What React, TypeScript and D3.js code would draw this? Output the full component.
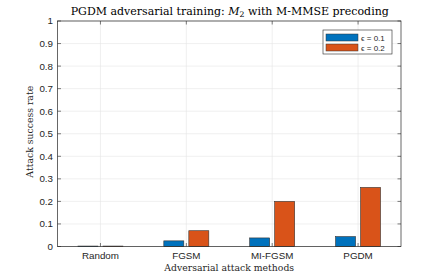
import React from "react";
import * as d3 from "d3";

const categories = ["Random", "FGSM", "MI-FGSM", "PGDM"];
const eps01 = [0.002, 0.025, 0.038, 0.044];
const eps02 = [0.002, 0.07, 0.2, 0.262];
const seriesNames = ["\u03f5 = 0.1", "\u03f5 = 0.2"];
const seriesColors = ["#0072BD", "#D95319"];
const yTicks = [0, 0.1, 0.2, 0.3, 0.4, 0.5, 0.6, 0.7, 0.8, 0.9, 1];

export default function App() {
  const W = 443, H = 277;
  const L = 57.5, R = 401, T = 21, B = 246.5;
  const x = d3.scaleLinear().domain([0.5, 4.5]).range([L, R]);
  const y = d3.scaleLinear().domain([0, 1]).range([B, T]);
  const series = [eps01, eps02];
  const barW = 20;
  const offs = [-12.5, 12.5];
  const tickLen = 3.5;
  const sans = "Liberation Sans, Arial, sans-serif";
  const serif = "DejaVu Serif, serif";
  return (
    <svg width={W} height={H} style={{ position: "absolute", left: 0, top: 0, background: "#fff" }}>
      <rect x={0} y={0} width={W} height={H} fill="#fff" />
      {yTicks.map((t) => (
        <line key={"gy" + t} x1={L} x2={R} y1={y(t)} y2={y(t)} stroke="#e6e6e6" strokeWidth={0.6} />
      ))}
      {categories.map((c, i) => (
        <line key={"gx" + c} x1={x(i + 1)} x2={x(i + 1)} y1={T} y2={B} stroke="#e6e6e6" strokeWidth={0.6} />
      ))}
      {series.map((s, si) =>
        s.map((v, i) => (
          <rect
            key={"b" + si + "-" + i}
            x={x(i + 1) + offs[si] - barW / 2}
            y={y(v)}
            width={barW}
            height={B - y(v)}
            fill={seriesColors[si]}
            stroke="#333"
            strokeWidth={0.6}
          />
        ))
      )}
      <rect x={L} y={T} width={R - L} height={B - T} fill="none" stroke="#262626" strokeWidth={0.7} />
      {yTicks.map((t) => (
        <g key={"ty" + t}>
          <line x1={L} x2={L + tickLen} y1={y(t)} y2={y(t)} stroke="#262626" strokeWidth={0.6} />
          <line x1={R} x2={R - tickLen} y1={y(t)} y2={y(t)} stroke="#262626" strokeWidth={0.6} />
          <text x={L - 4.5} y={y(t) + 3.4} textAnchor="end" fontFamily={sans} fontSize={9.8} fill="#262626">
            {String(t)}
          </text>
        </g>
      ))}
      {categories.map((c, i) => (
        <g key={"tx" + c}>
          <line x1={x(i + 1)} x2={x(i + 1)} y1={B} y2={B - tickLen} stroke="#262626" strokeWidth={0.6} />
          <line x1={x(i + 1)} x2={x(i + 1)} y1={T} y2={T + tickLen} stroke="#262626" strokeWidth={0.6} />
          <text x={x(i + 1)} y={B + 12.5} textAnchor="middle" fontFamily={sans} fontSize={9.8} fill="#262626">
            {c}
          </text>
        </g>
      ))}
      <text x={(L + R) / 2 + 0.5} y={14.5} textAnchor="middle" fontFamily={serif} fontSize={11} fill="#000">
        PGDM adversarial training: <tspan fontStyle="italic">M</tspan>
        <tspan fontSize={7.8} dy={2}>2</tspan>
        <tspan dy={-2}> with M-MMSE precoding</tspan>
      </text>
      <text x={(L + R) / 2} y={270.5} textAnchor="middle" fontFamily={serif} fontSize={9.3} fill="#262626">
        Adversarial attack methods
      </text>
      <text
        transform={`translate(32.5,${(T + B) / 2 - 2}) rotate(-90)`}
        textAnchor="middle"
        fontFamily={serif}
        fontSize={9.3}
        fill="#262626"
      >
        Attack success rate
      </text>
      <rect x={323} y={30} width={69} height={24} fill="#fff" stroke="#262626" strokeWidth={0.6} />
      {seriesNames.map((n, i) => (
        <g key={"lg" + i}>
          <rect x={326} y={34 + i * 10} width={32} height={7} fill={seriesColors[i]} stroke="#333" strokeWidth={0.5} />
          <text x={361} y={40.5 + i * 10} fontFamily={sans} fontSize={8} fill="#262626">
            {n}
          </text>
        </g>
      ))}
    </svg>
  );
}
